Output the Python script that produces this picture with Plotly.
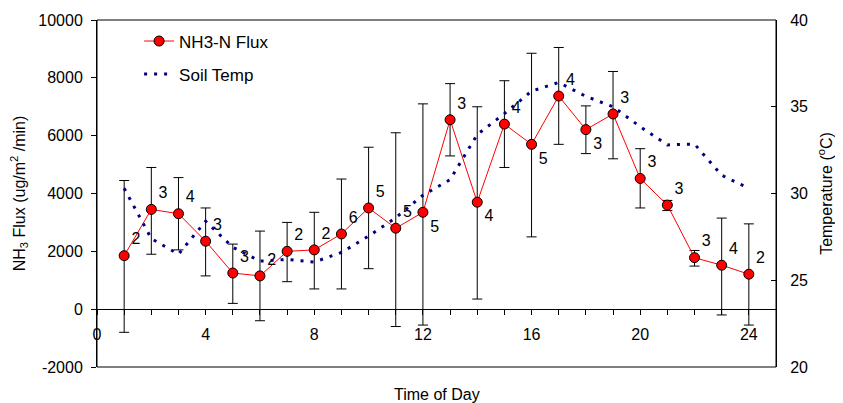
import plotly.graph_objects as go

hours = list(range(1, 25))
flux = [1850, 3450, 3300, 2350, 1250, 1150, 2000, 2050, 2600, 3500, 2800, 3350,
        6550, 3700, 6400, 5700, 7370, 6210, 6750, 4520, 3600, 1780, 1520, 1210]
flux_hi = [4450, 4900, 4550, 3500, 2250, 2700, 3000, 3350, 4500, 5600, 6100, 7100,
           7800, 7000, 7900, 8850, 9050, 7030, 8220, 5550, 3760, 2030, 3150, 2950]
flux_lo = [-800, 1900, 2050, 1150, 200, -400, 950, 700, 700, 1400, -600, -550,
           5300, 350, 4900, 2500, 5700, 5380, 5200, 3500, 3410, 1490, -200, -550]
n_labels = ["2", "3", "4", "3", "3", "2", "2", "2", "6", "5", "5", "5",
            "3", "4", "4", "5", "4", "3", "3", "3", "3", "3", "4", "2"]
label_pos = ["top right"] * 24
for i in (11, 13, 15, 17):
    label_pos[i] = "bottom right"
soil_temp = [30.3, 27.4, 26.5, 28.4, 26.9, 26.1, 26.2, 26.05, 26.6, 27.55, 28.6, 29.9,
             30.8, 33.4, 34.6, 35.9, 36.4, 35.6, 35.0, 33.85, 32.8, 32.85, 31.05, 30.3]
flux_ticks = [-2000, 0, 2000, 4000, 6000, 8000, 10000]
flux_tick_labels = ["-2000", "0", "2000", "4000", "6000", "8000", "10000"]

FONT = "Liberation Sans, Arial, sans-serif"

fig = go.Figure()
fig.add_trace(go.Scatter(
    x=hours, y=flux, mode="lines+markers+text", name="NH3-N Flux",
    text=n_labels, textposition=label_pos,
    textfont=dict(size=16, color="black", family=FONT),
    line=dict(color="#FF0000", width=1),
    marker=dict(size=10, color="#FF0000", line=dict(color="black", width=1)),
    error_y=dict(type="data", symmetric=False,
                 array=[h - v for h, v in zip(flux_hi, flux)],
                 arrayminus=[v - l for v, l in zip(flux, flux_lo)],
                 color="black", thickness=1, width=5),
    legendgroup="a", yaxis="y", cliponaxis=False,
))
fig.add_trace(go.Scatter(
    x=hours, y=soil_temp, mode="lines", name="Soil Temp",
    line=dict(color="#000080", width=3, dash="3px,7px"),
    legendgroup="b", yaxis="y2",
))

fig.update_layout(
    width=835, height=395,
    margin=dict(l=89, r=67, t=12, b=36),
    paper_bgcolor="white", plot_bgcolor="white",
    font=dict(family=FONT, size=16, color="black"),
    showlegend=True,
    legend=dict(x=0.062, y=0.99, xanchor="left", yanchor="top",
                bgcolor="rgba(0,0,0,0)", font=dict(size=17),
                tracegroupgap=8),
    xaxis=dict(range=[0, 25], anchor="free", position=1/6, automargin=False,
               tickmode="linear", tick0=0, dtick=4, ticklabelstandoff=6,
               ticks="outside", ticklen=5, tickcolor="black",
               minor=dict(dtick=1, ticks="outside", ticklen=5, tickcolor="black"),
               showgrid=False, zeroline=False, showline=True, linecolor="black",
               tickfont=dict(size=16)),
    yaxis=dict(range=[-2000, 10000], tickmode="array", tickvals=flux_ticks,
               ticktext=flux_tick_labels, automargin=False, ticklabelstandoff=5,
               ticks="outside", ticklen=5, tickcolor="black",
               showgrid=False, zeroline=False, showline=True, linecolor="black",
               title=dict(text="NH<sub>3</sub> Flux (ug/m<sup>2</sup> /min)", standoff=10,
                          font=dict(size=16)),
               tickfont=dict(size=16)),
    yaxis2=dict(range=[20, 40], overlaying="y", side="right", tickmode="linear",
                tick0=20, dtick=5, ticks="inside", ticklen=5, tickcolor="black",
                ticklabelstandoff=10, automargin=False,
                showgrid=False, zeroline=False, showline=True, linecolor="black",
                title=dict(text="Temperature (<sup>o</sup>C)", standoff=13,
                           font=dict(size=16)),
                tickfont=dict(size=16)),
    shapes=[dict(type="rect", xref="paper", yref="paper", x0=0, x1=1, y0=0, y1=1,
                 line=dict(color="black", width=1), layer="above")],
    annotations=[dict(text="Time of Day", xref="paper", yref="paper", x=0.5, y=-0.08,
                      xanchor="center", yanchor="middle", showarrow=False,
                      font=dict(size=16))],
)

fig.write_html("out.html")
